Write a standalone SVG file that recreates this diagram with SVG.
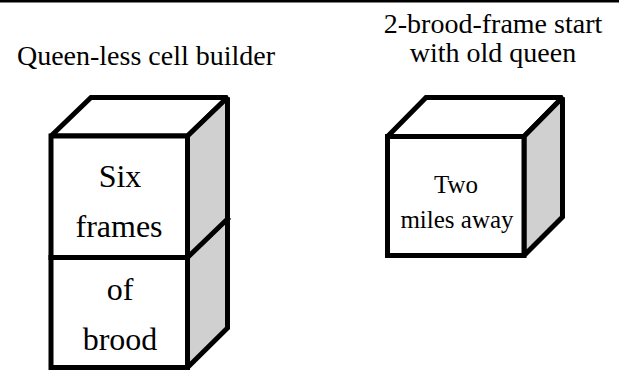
<svg xmlns="http://www.w3.org/2000/svg" width="619" height="371" viewBox="0 0 619 371">
<style>
.edge{stroke:#000;stroke-width:5;stroke-linejoin:miter;stroke-miterlimit:2;stroke-linecap:square}
.front{fill:#fff}
.top{fill:#fff}
.side{fill:#d0d0d0}
text{font-family:"Liberation Serif","DejaVu Serif",serif;fill:#000;text-anchor:middle}
.title{font-size:28px}
.big{font-size:32px}
.small{font-size:25px}
</style>
<rect x="0" y="0" width="619" height="2.5" fill="#000"/>
<g id="title-left"><text class="title" x="146" y="65">Queen-less cell builder</text></g>
<g id="title-right"><text class="title" x="493" y="33">2-brood-frame start</text><text class="title" x="493" y="62">with old queen</text></g>
<g id="cell-builder">
<polygon class="top edge" points="51,136 91,97.5 227.5,97.5 187.5,136"/>
<polygon class="side edge" points="187.5,136 227.5,97.5 227.5,328 187.5,367.5"/>
<line class="edge" x1="187.5" y1="257.5" x2="227.5" y2="219"/>
<rect class="front edge" x="51" y="136" width="136.5" height="121.5"/>
<rect class="front edge" x="51" y="257.5" width="136.5" height="110"/>
<text class="big" x="120" y="187">Six</text>
<text class="big" x="119" y="237">frames</text>
<text class="big" x="120" y="300">of</text>
<text class="big" x="120" y="350">brood</text>
</g>
<g id="start-hive">
<polygon class="top edge" points="387.5,136.5 426,97.5 562.5,97.5 524,136.5"/>
<polygon class="side edge" points="524,136.5 562.5,97.5 562.5,217 524,255.5"/>
<rect class="front edge" x="387.5" y="136.5" width="136.5" height="119"/>
<text class="small" x="456" y="193">Two</text>
<text class="small" x="457" y="228">miles away</text>
</g>
<g id="connectors"/>
</svg>
